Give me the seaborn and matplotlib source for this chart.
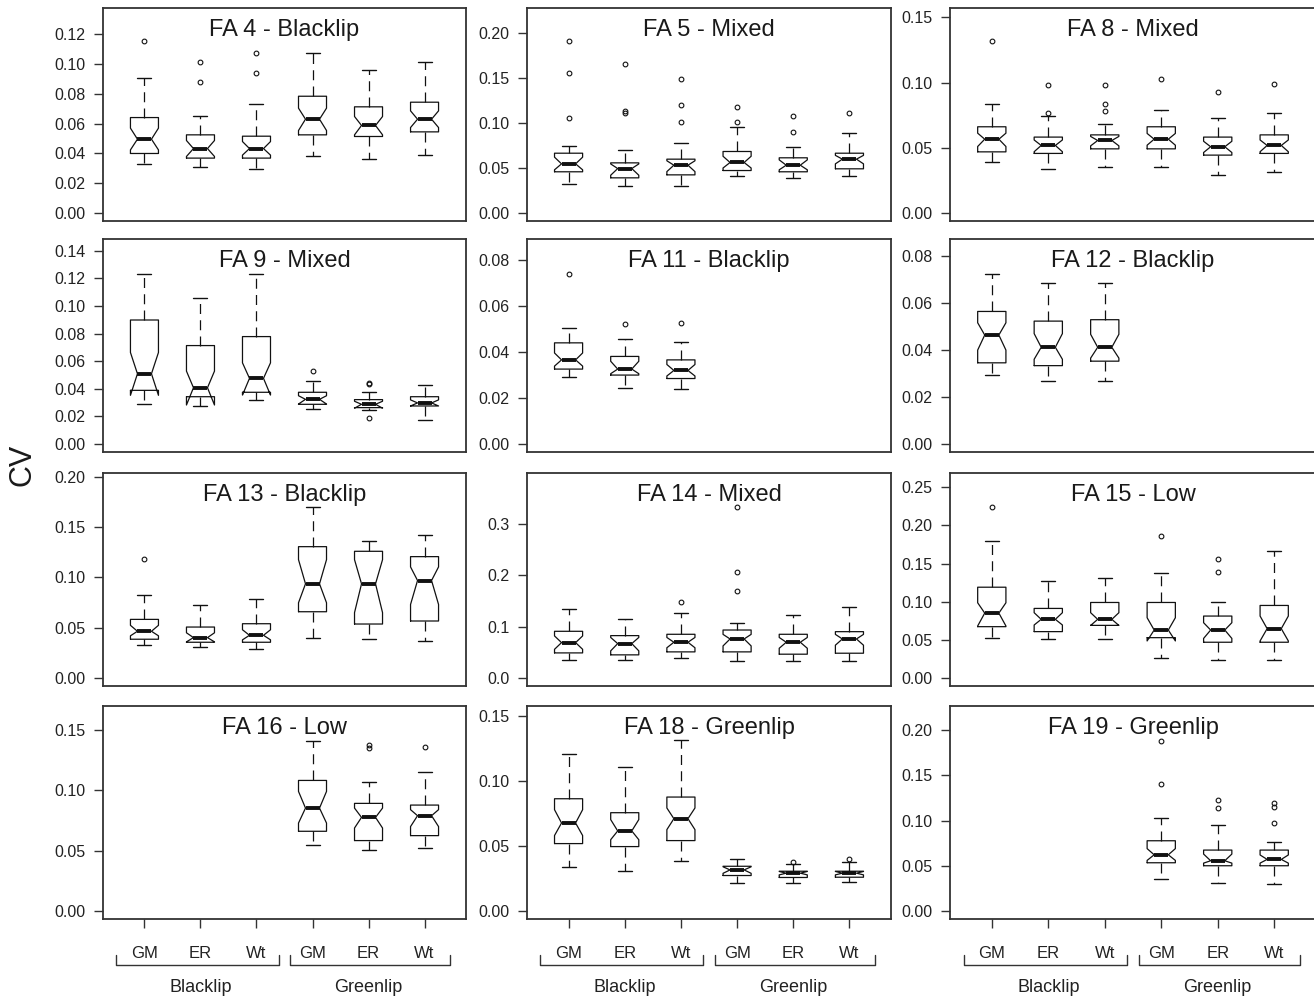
import matplotlib
matplotlib.use("Agg")
import matplotlib.pyplot as plt
import matplotlib.transforms as mtransforms
from matplotlib.ticker import MultipleLocator, FormatStrFormatter
import seaborn as sns

# panel titles, read left-to-right, top-to-bottom
TITLES = ["FA 4 - Blacklip", "FA 5 - Mixed", "FA 8 - Mixed",
          "FA 9 - Mixed", "FA 11 - Blacklip", "FA 12 - Blacklip",
          "FA 13 - Blacklip", "FA 14 - Mixed", "FA 15 - Low",
          "FA 16 - Low", "FA 18 - Greenlip", "FA 19 - Greenlip"]
METHODS = ["GM", "ER", "Wt", "GM", "ER", "Wt"]
SPECIES = ["Blacklip", "Greenlip"]

N = None  # group not measured in that panel

# box statistics per panel, six groups each (Blacklip GM/ER/Wt, Greenlip GM/ER/Wt)
WHISLO = [
    [0.0331, 0.0308, 0.0297, 0.0382, 0.0362, 0.0391],
    [0.0321, 0.0306, 0.0306, 0.0406, 0.0387, 0.0406],
    [0.0388, 0.0339, 0.0352, 0.0352, 0.0293, 0.0316],
    [0.0288, 0.0276, 0.0322, 0.0255, 0.0245, 0.0175],
    [0.0291, 0.0245, 0.0238, N, N, N],
    [0.0293, 0.0268, 0.0268, N, N, N],
    [0.0326, 0.0310, 0.0293, 0.0402, 0.0386, 0.0369],
    [0.0361, 0.0361, 0.0394, 0.0335, 0.0335, 0.0335],
    [0.0530, 0.0509, 0.0509, 0.0265, 0.0243, 0.0243],
    [N, N, N, 0.0548, 0.0509, 0.0520],
    [0.0339, 0.0304, 0.0388, 0.0214, 0.0214, 0.0224],
    [N, N, N, 0.0350, 0.0313, 0.0298],
]
Q1 = [
    [0.0400, 0.0369, 0.0369, 0.0525, 0.0514, 0.0545],
    [0.0458, 0.0391, 0.0424, 0.0472, 0.0458, 0.0491],
    [0.0469, 0.0457, 0.0492, 0.0492, 0.0444, 0.0457],
    [0.0389, 0.0343, 0.0375, 0.0288, 0.0264, 0.0276],
    [0.0326, 0.0300, 0.0285, N, N, N],
    [0.0345, 0.0333, 0.0352, N, N, N],
    [0.0386, 0.0356, 0.0356, 0.0659, 0.0537, 0.0567],
    [0.0490, 0.0452, 0.0510, 0.0510, 0.0465, 0.0484],
    [0.0674, 0.0609, 0.0691, 0.0530, 0.0470, 0.0470],
    [N, N, N, 0.0661, 0.0584, 0.0625],
    [0.0518, 0.0495, 0.0541, 0.0273, 0.0258, 0.0260],
    [N, N, N, 0.0534, 0.0501, 0.0501],
]
NOTCH_LO = [
    [0.0424, 0.0380, 0.0389, 0.0554, 0.0525, 0.0574],
    [0.0480, 0.0420, 0.0460, 0.0500, 0.0480, 0.0546],
    [0.0510, 0.0470, 0.0515, 0.0520, 0.0464, 0.0470],
    [0.0353, 0.0283, 0.0355, 0.0290, 0.0260, 0.0276],
    [0.0339, 0.0306, 0.0296, N, N, N],
    [0.0399, 0.0360, 0.0365, N, N, N],
    [0.0420, 0.0360, 0.0380, 0.0748, 0.0650, 0.0731],
    [0.0560, 0.0530, 0.0590, 0.0626, 0.0580, 0.0640],
    [0.0683, 0.0696, 0.0690, 0.0487, 0.0520, 0.0487],
    [N, N, N, 0.0729, 0.0688, 0.0700],
    [0.0580, 0.0548, 0.0625, 0.0290, 0.0278, 0.0278],
    [N, N, N, 0.0560, 0.0530, 0.0530],
]
MEDIAN = [
    [0.0496, 0.0433, 0.0433, 0.0630, 0.0588, 0.0630],
    [0.0546, 0.0494, 0.0531, 0.0561, 0.0531, 0.0598],
    [0.0566, 0.0518, 0.0556, 0.0566, 0.0508, 0.0518],
    [0.0509, 0.0408, 0.0476, 0.0324, 0.0288, 0.0298],
    [0.0366, 0.0326, 0.0320, N, N, N],
    [0.0463, 0.0411, 0.0411, N, N, N],
    [0.0465, 0.0402, 0.0425, 0.0936, 0.0936, 0.0969],
    [0.0690, 0.0671, 0.0697, 0.0761, 0.0697, 0.0761],
    [0.0852, 0.0770, 0.0770, 0.0630, 0.0630, 0.0648],
    [N, N, N, 0.0853, 0.0776, 0.0790],
    [0.0676, 0.0615, 0.0709, 0.0316, 0.0291, 0.0291],
    [N, N, N, 0.0622, 0.0556, 0.0571],
]
NOTCH_HI = [
    [0.0570, 0.0487, 0.0480, 0.0704, 0.0648, 0.0686],
    [0.0620, 0.0545, 0.0580, 0.0630, 0.0590, 0.0640],
    [0.0612, 0.0560, 0.0587, 0.0610, 0.0550, 0.0560],
    [0.0663, 0.0528, 0.0588, 0.0350, 0.0310, 0.0320],
    [0.0396, 0.0360, 0.0346, N, N, N],
    [0.0515, 0.0469, 0.0466, N, N, N],
    [0.0524, 0.0450, 0.0480, 0.1176, 0.1176, 0.1104],
    [0.0820, 0.0790, 0.0790, 0.0850, 0.0790, 0.0850],
    [0.0987, 0.0857, 0.0857, 0.0791, 0.0726, 0.0813],
    [N, N, N, 0.0991, 0.0853, 0.0840],
    [0.0778, 0.0702, 0.0791, 0.0340, 0.0304, 0.0304],
    [N, N, N, 0.0690, 0.0630, 0.0620],
]
Q3 = [
    [0.0641, 0.0525, 0.0516, 0.0784, 0.0713, 0.0744],
    [0.0664, 0.0557, 0.0598, 0.0683, 0.0613, 0.0664],
    [0.0661, 0.0582, 0.0599, 0.0661, 0.0582, 0.0599],
    [0.0898, 0.0713, 0.0778, 0.0375, 0.0322, 0.0343],
    [0.0440, 0.0381, 0.0366, N, N, N],
    [0.0563, 0.0522, 0.0528, N, N, N],
    [0.0583, 0.0507, 0.0540, 0.1305, 0.1259, 0.1206],
    [0.0910, 0.0826, 0.0852, 0.0935, 0.0852, 0.0903],
    [0.1191, 0.0913, 0.0991, 0.0991, 0.0813, 0.0952],
    [N, N, N, 0.1082, 0.0892, 0.0878],
    [0.0862, 0.0755, 0.0875, 0.0344, 0.0306, 0.0306],
    [N, N, N, 0.0777, 0.0674, 0.0674],
]
WHISHI = [
    [0.0909, 0.0650, 0.0733, 0.1077, 0.0961, 0.1014],
    [0.0749, 0.0697, 0.0782, 0.0956, 0.0734, 0.0889],
    [0.0837, 0.0742, 0.0684, 0.0791, 0.0732, 0.0765],
    [0.1232, 0.1054, 0.1232, 0.0454, 0.0375, 0.0430],
    [0.0506, 0.0458, 0.0445, N, N, N],
    [0.0723, 0.0684, 0.0684, N, N, N],
    [0.0827, 0.0722, 0.0781, 0.1697, 0.1364, 0.1423],
    [0.1348, 0.1142, 0.1265, 0.1077, 0.1232, 0.1380],
    [0.1800, 0.1270, 0.1313, 0.1374, 0.0991, 0.1661],
    [N, N, N, 0.1412, 0.1073, 0.1148],
    [0.1209, 0.1102, 0.1309, 0.0401, 0.0365, 0.0378],
    [N, N, N, 0.1031, 0.0947, 0.0759],
]
OUTLIERS = [
    [[0.1157], [0.1014, 0.0878], [0.1077, 0.0941], [], [], []],
    [[0.1911, 0.1554, 0.1059], [0.1657, 0.1133, 0.1107], [0.1483, 0.1196, 0.1007],
     [0.1177, 0.1007], [0.1074, 0.0904], [0.1107]],
    [[0.1321], [0.0980, 0.0768], [0.0980, 0.0839, 0.0778], [0.1026], [0.0931], [0.0990]],
    [[], [], [], [0.0526], [0.0442, 0.0432, 0.0192], []],
    [[0.0740], [0.0520], [0.0526], [], [], []],
    [[], [], [], [], [], []],
    [[0.1183], [], [], [], [], []],
    [[], [], [0.1477], [0.3323, 0.2071, 0.1684], [], []],
    [[0.2239], [], [], [0.1861], [0.1557, 0.1391], []],
    [[], [], [], [], [0.1373, 0.1351], [0.1362]],
    [[], [], [], [], [0.0378], [0.0401]],
    [[], [], [], [0.1882, 0.1403], [0.1227, 0.1138], [0.1190, 0.1153, 0.0969]],
]

# y range per panel (data top before R's 4% padding) and tick step
Y_TOP = [0.1323, 0.2186, 0.1510, 0.1427, 0.0857, 0.0837,
         0.1958, 0.3834, 0.2584, 0.1633, 0.1513, 0.2178]
Y_STEP = [0.02, 0.05, 0.05, 0.02, 0.02, 0.02,
          0.05, 0.1, 0.05, 0.05, 0.05, 0.05]

sns.set_theme(style="ticks")
plt.rcParams['font.family'] = ['Liberation Sans', 'DejaVu Sans']
plt.rcParams.update({
    "axes.edgecolor": "#333333", "axes.linewidth": 1.3,
    "xtick.color": "#333333", "ytick.color": "#333333",
    "xtick.labelcolor": "#222222", "ytick.labelcolor": "#222222",
})

W, H = 1314, 997
fig = plt.figure(figsize=(W / 100, H / 100), dpi=100)

col_left = [103, 527, 950]
col_width = [363, 364, 366]
row_top = [8, 239, 473, 706]
ax_h = 213

for k, title in enumerate(TITLES):
    r, c = divmod(k, 3)
    ax = fig.add_axes([col_left[c] / W, 1 - (row_top[r] + ax_h) / H,
                       col_width[c] / W, ax_h / H])

    stats, pos = [], []
    for i in range(6):
        if MEDIAN[k][i] is None:
            continue
        stats.append(dict(med=MEDIAN[k][i], q1=Q1[k][i], q3=Q3[k][i],
                          whislo=WHISLO[k][i], whishi=WHISHI[k][i],
                          cilo=NOTCH_LO[k][i], cihi=NOTCH_HI[k][i],
                          fliers=OUTLIERS[k][i]))
        pos.append(i + 1)

    ax.bxp(stats, positions=pos, widths=0.5, shownotches=True,
           boxprops=dict(color="#111111", linewidth=0.9),
           whiskerprops=dict(color="#111111", linewidth=0.9, linestyle=(0, (8, 5))),
           capprops=dict(color="#111111", linewidth=1.0),
           medianprops=dict(color="#111111", linewidth=2.8, solid_capstyle="butt"),
           flierprops=dict(marker="o", markersize=3.4, markerfacecolor="none",
                           markeredgecolor="#111111", markeredgewidth=0.8))

    top = Y_TOP[k]
    ax.set_ylim(-0.04 * top, 1.04 * top)
    ax.set_xlim(0.26, 6.74)
    ax.yaxis.set_major_locator(MultipleLocator(Y_STEP[k]))
    ax.yaxis.set_major_formatter(FormatStrFormatter("%.1f" if Y_STEP[k] >= 0.1 else "%.2f"))
    ax.tick_params(axis="y", length=6.5, width=1, pad=6, labelsize=11.5)
    ax.text(0.5, 0.895, title, transform=ax.transAxes, ha="center", va="center",
            fontsize=17, color="#1a1a1a")
    for s in ax.spines.values():
        s.set_visible(True)

    if r < 3:
        ax.tick_params(axis="x", bottom=False, labelbottom=False)
    else:
        ax.set_xticks(range(1, 7), METHODS)
        ax.tick_params(axis="x", length=6.5, width=1, pad=13, labelsize=12)
        trans = mtransforms.blended_transform_factory(ax.transData, ax.transAxes)
        y_line, y_end = -46 / ax_h, -36 / ax_h
        for (x0, x1), name, xc in zip([(0.5, 3.4), (3.6, 6.45)], SPECIES, [2, 5]):
            ax.plot([x0, x0, x1, x1], [y_end, y_line, y_line, y_end], color="#333333",
                    lw=1.0, transform=trans, clip_on=False)
            ax.text(xc, -68 / ax_h, name, transform=trans, ha="center", va="center",
                    fontsize=13, color="#222222")

fig.text(22 / W, 1 - 465 / H, "CV", rotation=90, ha="center", va="center",
         fontsize=22, color="#1a1a1a")

fig.savefig("out.png", dpi=100)
